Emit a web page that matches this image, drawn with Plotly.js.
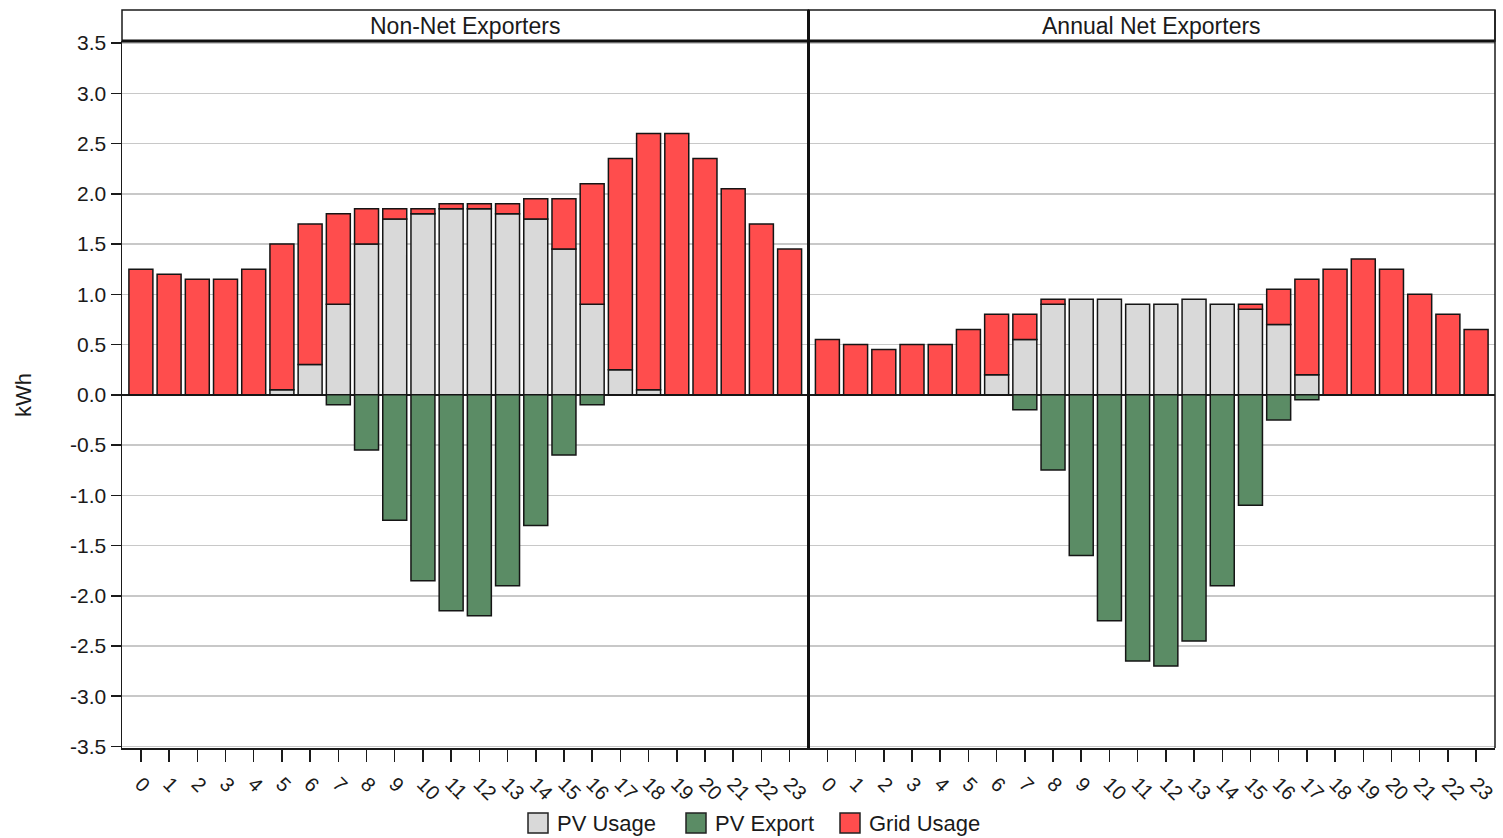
<!DOCTYPE html>
<html><head><meta charset="utf-8">
<script src="https://cdn.plot.ly/plotly-3.0.1.min.js"></script>
<style>html,body{margin:0;padding:0;background:#fff}#chart{width:1503px;height:838px}</style>
</head><body><div id="chart"></div>
<script>
const hours = ['0','1','2','3','4','5','6','7','8','9','10','11','12','13','14','15','16','17','18','19','20','21','22','23'];
const panelTitles = ['Non-Net Exporters', 'Annual Net Exporters'];
const seriesNames = ['PV Usage', 'PV Export', 'Grid Usage'];
const yTickVals = [-3.5,-3,-2.5,-2,-1.5,-1,-0.5,0,0.5,1,1.5,2,2.5,3,3.5];
const yTickText = ['-3.5','-3.0','-2.5','-2.0','-1.5','-1.0','-0.5','0.0','0.5','1.0','1.5','2.0','2.5','3.0','3.5'];

// Non-Net Exporters (kWh)
const nonNetPvUsage  = [null,null,null,null,null,0.05,0.3,0.9,1.5,1.75,1.8,1.85,1.85,1.8,1.75,1.45,0.9,0.25,0.05,null,null,null,null,null];
const nonNetPvExport = [null,null,null,null,null,null,null,-0.1,-0.55,-1.25,-1.85,-2.15,-2.2,-1.9,-1.3,-0.6,-0.1,null,null,null,null,null,null,null];
const nonNetGrid     = [1.25,1.2,1.15,1.15,1.25,1.45,1.4,0.9,0.35,0.1,0.05,0.05,0.05,0.1,0.2,0.5,1.2,2.1,2.55,2.6,2.35,2.05,1.7,1.45];

// Annual Net Exporters (kWh)
const netPvUsage  = [null,null,null,null,null,null,0.2,0.55,0.9,0.95,0.95,0.9,0.9,0.95,0.9,0.85,0.7,0.2,null,null,null,null,null,null];
const netPvExport = [null,null,null,null,null,null,null,-0.15,-0.75,-1.6,-2.25,-2.65,-2.7,-2.45,-1.9,-1.1,-0.25,-0.05,null,null,null,null,null,null];
const netGrid     = [0.55,0.5,0.45,0.5,0.5,0.65,0.6,0.25,0.05,null,null,null,null,null,null,0.05,0.35,0.95,1.25,1.35,1.25,1.0,0.8,0.65];

const colors = ['#d9d9d9', '#5b8c65', '#ff4d4d'];
const outline = {color: '#151515', width: 1.5};

function mk(name, y, color, xa) {
  return {type: 'bar', name: name, x: hours, y: y, xaxis: xa, yaxis: 'y',
    marker: {color: color, line: outline}, showlegend: false, legendgroup: name,
    hoverinfo: 'x+y+name'};
}

const data = [
  mk(seriesNames[0], nonNetPvUsage, colors[0], 'x'),
  mk(seriesNames[1], nonNetPvExport, colors[1], 'x'),
  mk(seriesNames[2], nonNetGrid, colors[2], 'x'),
  mk(seriesNames[0], netPvUsage, colors[0], 'x2'),
  mk(seriesNames[1], netPvExport, colors[1], 'x2'),
  mk(seriesNames[2], netGrid, colors[2], 'x2')
];

const R = 8;
const W = 1503 - 122 - R, H = 707, L = 122, B = 748;
const px = v => (v - L) / W;
const py = v => (B - v) / H;

const font = {family: 'Liberation Sans, Arial, sans-serif', color: '#1a1a1a', size: 21};
const stripTop = 1 + 31/H;

const xCommon = {type: 'category', range: [-0.67, 23.67], tickangle: 45, ticks: 'outside', ticklen: 12,
  tickwidth: 1.5, tickcolor: '#1a1a1a', showline: true, linecolor: '#1a1a1a', linewidth: 1.5,
  showgrid: false, zeroline: false, tickfont: {size: 20}, ticklabelstandoff: 3, anchor: 'y', fixedrange: true, automargin: false};

// custom legend (large swatches like the reference)
const legendX = [528, 686, 840];
const legendShapes = legendX.map((x, i) => ({type: 'rect', xref: 'paper', yref: 'paper',
  x0: px(x), x1: px(x + 20), y0: py(833), y1: py(813), fillcolor: colors[i], line: {color: '#222', width: 1.5}}));
const legendAnn = legendX.map((x, i) => ({xref: 'paper', yref: 'paper', x: px(x + 27), y: py(823),
  text: seriesNames[i], showarrow: false, xanchor: 'left', yanchor: 'middle', font: {size: 22}}));

const layout = {
  width: 1503, height: 838,
  margin: {l: 122, r: R, t: 41, b: 90, autoexpand: false},
  paper_bgcolor: '#fff', plot_bgcolor: '#fff',
  font: font,
  barmode: 'relative', bargap: 0.15,
  xaxis: Object.assign({}, xCommon, {domain: [0, 0.5]}),
  xaxis2: Object.assign({}, xCommon, {domain: [0.5, 1]}),
  yaxis: {range: [-3.515, 3.52], tickvals: yTickVals, ticktext: yTickText, ticks: 'outside', ticklen: 10,
    tickwidth: 1.5, tickcolor: '#1a1a1a', showline: true, linecolor: '#1a1a1a', linewidth: 1.5,
    showgrid: true, gridcolor: '#c8c8c8', gridwidth: 1.5, zeroline: true, zerolinecolor: '#1a1a1a',
    zerolinewidth: 1.5, tickfont: {size: 21}, fixedrange: true, automargin: false},
  showlegend: false,
  shapes: [
    {type: 'rect', xref: 'paper', yref: 'paper', x0: 0, x1: 0.5, y0: 1, y1: stripTop, line: {color: '#1a1a1a', width: 1.5}},
    {type: 'rect', xref: 'paper', yref: 'paper', x0: 0.5, x1: 1, y0: 1, y1: stripTop, line: {color: '#1a1a1a', width: 1.5}},
    {type: 'line', xref: 'paper', yref: 'paper', x0: 0, x1: 1, y0: 1, y1: 1, line: {color: '#111', width: 3}},
    {type: 'line', xref: 'paper', yref: 'paper', x0: 0.5, x1: 0.5, y0: 0, y1: stripTop, line: {color: '#111', width: 3}},
    {type: 'line', xref: 'paper', yref: 'paper', x0: 1, x1: 1, y0: 0, y1: stripTop, line: {color: '#1a1a1a', width: 1.5}}
  ].concat(legendShapes),
  annotations: [
    {xref: 'paper', yref: 'paper', x: 0.25, y: 1 + 15.5/H, text: panelTitles[0], showarrow: false, font: {size: 23}, xanchor: 'center', yanchor: 'middle'},
    {xref: 'paper', yref: 'paper', x: 0.75, y: 1 + 15.5/H, text: panelTitles[1], showarrow: false, font: {size: 23}, xanchor: 'center', yanchor: 'middle'},
    {xref: 'paper', yref: 'paper', x: px(23), y: py(395), text: 'kWh', showarrow: false, textangle: -90, font: {size: 22}, xanchor: 'center', yanchor: 'middle'}
  ].concat(legendAnn)
};

Plotly.newPlot('chart', data, layout, {displayModeBar: false, staticPlot: true});
</script>
</body></html>
